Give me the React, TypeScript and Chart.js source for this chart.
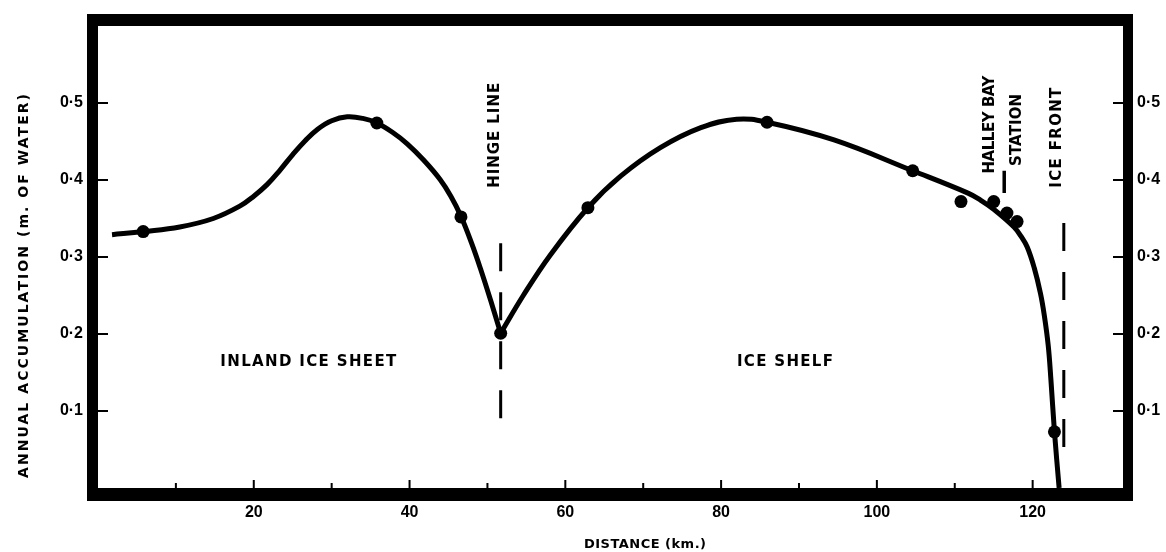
import { useEffect, useRef } from 'react';
import { Chart, registerables } from 'chart.js';

Chart.register(...registerables);

// Smoothed accumulation profile, inland ice sheet up to the hinge line (km, m of water)
const inlandKm = [1.8, 5.8, 10.5, 14.8, 18.2, 20.0, 21.7, 23.3, 25.0, 26.6, 28.2, 30.0, 32.0, 34.0, 35.8, 37.8, 39.7, 41.8, 43.9, 45.3, 46.6, 48.0, 49.1, 50.4, 51.7];
const inlandVal = [0.329, 0.333, 0.339, 0.35, 0.366, 0.379, 0.394, 0.412, 0.433, 0.451, 0.466, 0.477, 0.482, 0.48, 0.474, 0.462, 0.447, 0.426, 0.401, 0.379, 0.353, 0.317, 0.285, 0.244, 0.201];

// Smoothed profile across the ice shelf, from the hinge line to the ice front
const shelfKm = [51.7, 54.6, 58.1, 62.9, 67.1, 72.2, 77.4, 82.0, 85.9, 94.5, 104.6, 111.7, 113.3, 115.0, 117.6, 118.5, 119.3, 120.2, 121.0, 121.5, 122.0, 122.35, 122.8, 123.4];
const shelfVal = [0.201, 0.25, 0.303, 0.364, 0.405, 0.442, 0.468, 0.479, 0.475, 0.452, 0.412, 0.383, 0.374, 0.362, 0.339, 0.327, 0.313, 0.286, 0.253, 0.224, 0.185, 0.14, 0.073, 0.0];

// Measured stations
const stationKm = [5.8, 35.8, 46.6, 51.7, 62.9, 85.9, 104.6, 110.8, 115.0, 116.7, 118.0, 122.8];
const stationVal = [0.333, 0.474, 0.352, 0.201, 0.364, 0.475, 0.412, 0.372, 0.372, 0.357, 0.346, 0.073];

// Reference lines
const hingeKm = 51.7;
const hingeSpan = [0.318, 0.066];
const iceFrontKm = 124.0;
const iceFrontSpan = [0.344, 0.053];
const halleyKm = 116.35;
const halleySpan = [0.412, 0.383];

// Axis ranges and tick steps
const xRange = [0, 131.6];
const yRange = [0, 0.6];
const xTickStep = 10;
const xLabelStep = 20;
const yTickStep = 0.1;

const pairs = (xs: number[], ys: number[]) => xs.map((x, i) => ({ x, y: ys[i] }));

const BOLD = (size: number, family = 'DejaVu Sans') => `bold ${size}px "${family}"`;

function spacedText(
  ctx: CanvasRenderingContext2D,
  text: string,
  cx: number,
  cy: number,
  width: number,
  vertical: boolean
) {
  ctx.save();
  ctx.translate(cx, cy);
  if (vertical) ctx.rotate(-Math.PI / 2);
  (ctx as any).letterSpacing = '0px';
  const natural = ctx.measureText(text).width;
  const n = Array.from(text).length;
  const ls = n > 1 ? (width - natural) / (n - 1) : 0;
  (ctx as any).letterSpacing = `${ls}px`;
  ctx.textAlign = 'left';
  ctx.textBaseline = 'middle';
  ctx.fillText(text, -width / 2, 0);
  ctx.restore();
}

const framePlugin = {
  id: 'frameAndNotes',
  afterDatasetsDraw(chart: any) {
    const { ctx, chartArea: a, scales } = chart;
    const xs = scales.x;
    const ys = scales.y;
    ctx.save();
    ctx.fillStyle = '#000';

    // heavy frame around the plot
    ctx.fillRect(a.left - 11, a.top - 12, a.right - a.left + 21, 12);
    ctx.fillRect(a.left - 11, a.bottom, a.right - a.left + 21, 13);
    ctx.fillRect(a.left - 11, a.top - 12, 11, a.bottom - a.top + 25);
    ctx.fillRect(a.right, a.top - 12, 10, a.bottom - a.top + 25);

    // inward tick marks
    xs.ticks.forEach((t: any) => {
      const v = t.value;
      if (v <= 0 || v > 125) return;
      const len = Math.abs(v % xLabelStep) < 1e-6 ? 8 : 5;
      const px = xs.getPixelForValue(v);
      ctx.fillRect(px - 1, a.bottom - len, 2, len);
    });
    ys.ticks.forEach((t: any) => {
      const v = t.value;
      if (v < 0.05 || v > 0.55) return;
      const py = ys.getPixelForValue(v);
      ctx.fillRect(a.left, py - 1, 10, 2);
      ctx.fillRect(a.right - 10, py - 1, 10, 2);
    });

    // region and feature labels
    ctx.font = BOLD(15);
    const at = (km: number, v: number) => [xs.getPixelForValue(km), ys.getPixelForValue(v)];
    let p = at(27.0, 0.163);
    spacedText(ctx, 'INLAND ICE SHEET', p[0], p[1], 176, false);
    p = at(88.2, 0.163);
    spacedText(ctx, 'ICE SHELF', p[0], p[1], 96, false);
    p = at(51.0, 0.458);
    spacedText(ctx, 'HINGE LINE', p[0], p[1], 105, true);
    p = at(114.5, 0.472);
    spacedText(ctx, 'HALLEY BAY', p[0], p[1], 98, true);
    p = at(118.0, 0.465);
    spacedText(ctx, 'STATION', p[0], p[1], 72, true);
    p = at(123.2, 0.455);
    spacedText(ctx, 'ICE FRONT', p[0], p[1], 100, true);

    // axis titles
    ctx.font = BOLD(14);
    spacedText(ctx, 'ANNUAL ACCUMULATION (m. OF WATER)', 24, 286, 384, true);
    ctx.font = BOLD(13);
    spacedText(ctx, 'DISTANCE (km.)', 645, 545, 122, false);
    ctx.restore();
  },
};

export default function App() {
  const ref = useRef<HTMLCanvasElement | null>(null);

  useEffect(() => {
    if (!ref.current) return;
    const lineBase = {
      borderColor: '#000',
      backgroundColor: '#000',
      pointRadius: 0,
      fill: false,
    };
    const tickFont = { family: 'Liberation Sans', weight: 'bold' as const, size: 16 };
    const yLabel = (v: any) => {
      const n = Number(v);
      return n > 0.05 && n < 0.55 ? n.toFixed(1).replace('.', '\u00B7') : '';
    };

    const chart = new Chart(ref.current, {
      type: 'line',
      data: {
        datasets: [
          {
            ...lineBase,
            data: pairs(inlandKm, inlandVal),
            borderWidth: 5,
            tension: 0.4,
          },
          {
            ...lineBase,
            data: pairs(shelfKm, shelfVal),
            borderWidth: 5,
            tension: 0.4,
          },
          {
            ...lineBase,
            data: [
              { x: hingeKm, y: hingeSpan[0] },
              { x: hingeKm, y: hingeSpan[1] },
            ],
            borderWidth: 3,
            tension: 0,
            borderDash: [28, 21],
          },
          {
            ...lineBase,
            data: [
              { x: iceFrontKm, y: iceFrontSpan[0] },
              { x: iceFrontKm, y: iceFrontSpan[1] },
            ],
            borderWidth: 3,
            tension: 0,
            borderDash: [28, 21],
          },
          {
            ...lineBase,
            data: [
              { x: halleyKm, y: halleySpan[0] },
              { x: halleyKm, y: halleySpan[1] },
            ],
            borderWidth: 3.5,
            tension: 0,
          },
          {
            ...lineBase,
            data: pairs(stationKm, stationVal),
            showLine: false,
            pointRadius: 6.5,
            pointBorderWidth: 0,
            pointBackgroundColor: '#000',
          },
        ],
      },
      options: {
        animation: false,
        responsive: false,
        devicePixelRatio: 1,
        events: [],
        layout: { padding: { top: 26, left: 0, right: 0, bottom: 0 } },
        plugins: { legend: { display: false }, tooltip: { enabled: false } },
        scales: {
          x: {
            type: 'linear',
            min: xRange[0],
            max: xRange[1],
            grid: { display: false, drawTicks: false },
            border: { display: false },
            ticks: {
              stepSize: xTickStep,
              autoSkip: false,
              maxRotation: 0,
              padding: 15,
              color: '#000',
              font: tickFont,
              callback: (v: any) => {
                const n = Number(v);
                return n > 0 && n <= 120 && Math.abs(n % xLabelStep) < 1e-6 ? String(n) : '';
              },
            },
            afterFit: (s: any) => {
              s.height = 64;
            },
          },
          y: {
            type: 'linear',
            position: 'left',
            min: yRange[0],
            max: yRange[1],
            grid: { display: false, drawTicks: false },
            border: { display: false },
            ticks: { stepSize: yTickStep, autoSkip: false, padding: 15, color: '#000', font: tickFont, callback: yLabel },
            afterFit: (s: any) => {
              s.width = 98;
            },
          },
          y2: {
            type: 'linear',
            axis: 'y',
            position: 'right',
            min: yRange[0],
            max: yRange[1],
            grid: { display: false, drawTicks: false },
            border: { display: false },
            ticks: { stepSize: yTickStep, autoSkip: false, padding: 14, color: '#000', font: tickFont, callback: yLabel },
            afterFit: (s: any) => {
              s.width = 43;
            },
          },
        },
      } as any,
      plugins: [framePlugin],
    });
    return () => chart.destroy();
  }, []);

  return (
    <div style={{ position: 'absolute', left: 0, top: 0, width: 1166, height: 552, background: '#fff' }}>
      <canvas ref={ref} width={1166} height={552} style={{ width: 1166, height: 552, display: 'block' }} />
    </div>
  );
}
